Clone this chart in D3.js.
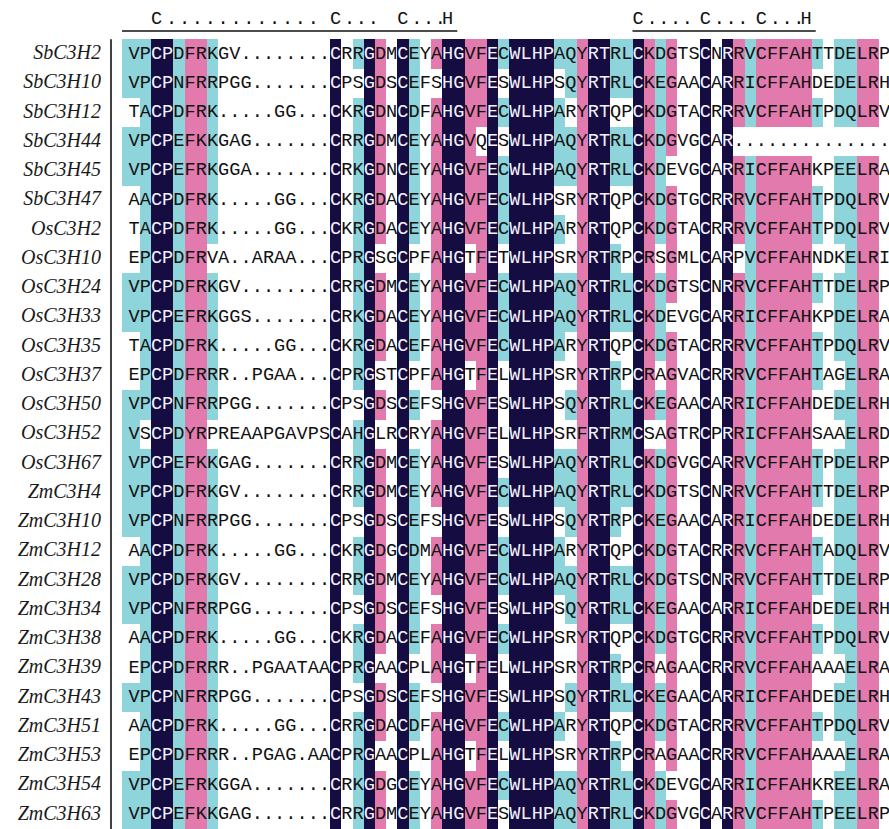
<!DOCTYPE html>
<html>
<head>
<meta charset="utf-8">
<script src="https://cdn.jsdelivr.net/npm/d3@7/dist/d3.min.js"></script>
<style>
  html, body { margin: 0; padding: 0; background: #ffffff; }
  svg { display: block; }
</style>
</head>
<body>
<svg id="chart" width="889" height="829"></svg>
<script>
// Sequence names, one per alignment row
const names = [
  "SbC3H2", "SbC3H10", "SbC3H12", "SbC3H44", "SbC3H45", "SbC3H47",
  "OsC3H2", "OsC3H10", "OsC3H24", "OsC3H33", "OsC3H35", "OsC3H37",
  "OsC3H50", "OsC3H52", "OsC3H67",
  "ZmC3H4", "ZmC3H10", "ZmC3H12", "ZmC3H28", "ZmC3H34", "ZmC3H38",
  "ZmC3H39", "ZmC3H43", "ZmC3H51", "ZmC3H53", "ZmC3H54", "ZmC3H63"
];

// Aligned residues ('.' = gap)
const sequences = [
  "VPCPDFRKGV........CRRGDMCEYAHGVFECWLHPAQYRTRLCKDGTSCNRRVCFFAHTTDELRP",
  "VPCPNFRRPGG.......CPSGDSCEFSHGVFESWLHPSQYRTRLCKEGAACARRICFFAHDEDELRH",
  "TACPDFRK.....GG...CKRGDNCDFAHGVFECWLHPARYRTQPCKDGTACRRRVCFFAHTPDQLRV",
  "VPCPEFKKGAG.......CRRGDMCEYAHGVQESWLHPAQYRTRLCKDGVGCAR..............",
  "VPCPEFRKGGA.......CRKGDNCEYAHGVFECWLHPAQYRTRLCKDEVGCARRICFFAHKPEELRA",
  "AACPDFRK.....GG...CKRGDACEYAHGVFECWLHPSRYRTQPCKDGTGCRRRVCFFAHTPDQLRV",
  "TACPDFRK.....GG...CKRGDACEYAHGVFECWLHPARYRTQPCKDGTACRRRVCFFAHTPDQLRV",
  "EPCPDFRVA..ARAA...CPRGSGCPFAHGTFETWLHPSRYRTRPCRSGMLCARPVCFFAHNDKELRI",
  "VPCPDFRKGV........CRRGDMCEYAHGVFECWLHPAQYRTRLCKDGTSCNRRVCFFAHTTDELRP",
  "VPCPEFRKGGS.......CRKGDACEYAHGVFECWLHPAQYRTRLCKDEVGCARRICFFAHKPDELRA",
  "TACPDFRK.....GG...CKRGDACEFAHGVFECWLHPARYRTQPCKDGTACRRRVCFFAHTPDQLRV",
  "EPCPDFRRR..PGAA...CPRGSTCPFAHGTFELWLHPSRYRTRPCRAGVACRRRVCFFAHTAGELRA",
  "VPCPNFRRPGG.......CPSGDSCEFSHGVFESWLHPSQYRTRLCKEGAACARRICFFAHDEDELRH",
  "VSCPDYRPREAAPGAVPSCAHGLRCRYAHGVFELWLHPSRFRTRMCSAGTRCPRRICFFAHSAAELRD",
  "VPCPEFKKGAG.......CRRGDMCEYAHGVFESWLHPAQYRTRLCKDGVGCARRVCFFAHTPDELRP",
  "VPCPDFRKGV........CRRGDMCEYAHGVFECWLHPAQYRTRLCKDGTSCNRRVCFFAHTTDELRP",
  "VPCPNFRRPGG.......CPSGDSCEFSHGVFESWLHPSQYRTRPCKEGAACARRICFFAHDEDELRH",
  "AACPDFRK.....GG...CKRGDGCDMAHGVFECWLHPARYRTQPCKDGTACRRRVCFFAHTADQLRV",
  "VPCPDFRKGV........CRRGDMCEYAHGVFECWLHPAQYRTRLCKDGTSCNRRVCFFAHTTDELRP",
  "VPCPNFRRPGG.......CPSGDSCEFSHGVFESWLHPSQYRTRLCKEGAACARRICFFAHDEDELRH",
  "AACPDFRK.....GG...CKRGDACEFAHGVFECWLHPSRYRTQPCKDGTGCRRRVCFFAHTPDQLRV",
  "EPCPDFRRR..PGAATAACPRGAACPLAHGTFELWLHPSRYRTRPCRAGAACRRRVCFFAHAAAELRA",
  "VPCPNFRRPGG.......CPSGDSCEFSHGVFESWLHPSQYRTRLCKEGAACARRICFFAHDEDELRH",
  "AACPDFRK.....GG...CRRGDACDFAHGVFECWLHPARYRTQPCKDGTACRRRVCFFAHTPDQLRV",
  "EPCPDFRRR..PGAG.AACPRGAACPLAHGTFELWLHPSRYRTRPCRAGAACRRRVCFFAHAAAELRA",
  "VPCPEFRKGGA.......CRKGDGCEYAHGVFECWLHPAQYRTRLCKDEVGCARRICFFAHKREELRA",
  "VPCPEFKKGAG.......CRRGDMCEYAHGVFESWLHPAQYRTRLCKDGVGCARRVCFFAHTPEELRP"
];

// Per-column conservation level: d = identical, p = high, c = moderate, - = none
const columnLevel = [
  "c","c","d","d","c","p","p","c","-","-",
  "-","-","-","-","-","-","-","-","d","-",
  "c","d","p","-","d","c","-","p","d","d",
  "p","p","d","c","d","d","d","d","c","c",
  "p","d","d","c","c","d","p","c","p","-",
  "-","d","-","d","p","c","p","p","p","p",
  "p","c","-","c","c","p","p","-"
];

// Residues shaded in each column
const columnResidues = [
  "V","PA","C","P","DNE","FY","RK","KR","","",
  "","","","","","","","","C","",
  "RKH","G","D","","C","ED","","A","H","G",
  "V","F","E","C","W","L","H","P","A","Q",
  "YF","R","T","R","LM","C","KR","DE","G","",
  "","C","","R","R","VI","C","F","F","A",
  "H","T","","DE","EQ","L","R",""
];

// Motif header: anchor residues, number of dots after each, and the underlined column spans
const headerAnchors = [
  { col: 2, ch: "C" }, { col: 18, ch: "C" }, { col: 24, ch: "C" }, { col: 28, ch: "H" },
  { col: 45, ch: "C" }, { col: 51, ch: "C" }, { col: 56, ch: "C" }, { col: 60, ch: "H" }
];
const headerDots = [12, 3, 3, 0, 4, 3, 3, 0];
const headerRules = [[0, 28], [45, 60]];

const palette = { d: "#150d42", p: "#e27aae", c: "#8ed4db" };

const nCols = sequences[0].length;
const svg = d3.select("#chart");

const x = d3.scaleBand()
  .domain(d3.range(nCols))
  .range([128.5, 128.5 + nCols * 11.2]);

const y = d3.scaleBand()
  .domain(names)
  .range([39.3, 829]);

const cw = x.bandwidth();
const rh = y.bandwidth();
const leadPad = 6.5;   // first column boxes reach a little to the left

// Cell model
const cells = [];
names.forEach((name, r) => {
  const seq = sequences[r];
  for (let j = 0; j < nCols; j++) {
    const ch = seq[j];
    const lvl = columnLevel[j];
    const shaded = lvl !== "-" && ch !== "." && columnResidues[j].includes(ch);
    cells.push({ name, col: j, ch, level: shaded ? lvl : null });
  }
});

// Shading boxes
svg.append("g")
  .attr("shape-rendering", "crispEdges")
  .selectAll("rect")
  .data(cells.filter(c => c.level))
  .join("rect")
  .attr("x", c => c.col === 0 ? x(c.col) - leadPad : x(c.col))
  .attr("y", c => y(c.name))
  .attr("width", c => c.col === 0 ? cw + leadPad : cw)
  .attr("height", rh)
  .attr("fill", c => palette[c.level]);

// Residue letters
svg.append("g")
  .attr("font-family", "'Liberation Mono', 'DejaVu Sans Mono', monospace")
  .attr("font-size", 18.6)
  .attr("text-anchor", "middle")
  .selectAll("text")
  .data(cells)
  .join("text")
  .attr("x", c => x(c.col) + cw / 2)
  .attr("y", c => y(c.name) + 19.2)
  .attr("fill", c => c.level === "d" ? "#f4f2fb" : "#111111")
  .text(c => c.ch);

// Sequence names
svg.append("g")
  .attr("font-family", "'Liberation Serif', 'DejaVu Serif', serif")
  .attr("font-style", "italic")
  .attr("font-size", 20)
  .attr("text-anchor", "end")
  .selectAll("text")
  .data(names)
  .join("text")
  .attr("x", 101)
  .attr("y", d => y(d) + 19.8)
  .attr("fill", "#1a1a1a")
  .text(d => d);

// Separator between names and residues
svg.append("line")
  .attr("x1", 111).attr("x2", 111)
  .attr("y1", y.range()[0]).attr("y2", y.range()[1])
  .attr("stroke", "#111").attr("stroke-width", 1.6);

// Motif header letters and dots
const headerChars = [];
headerAnchors.forEach((a, i) => {
  const cx = x(a.col) + cw / 2;
  headerChars.push({ x: cx, ch: a.ch });
  const n = headerDots[i];
  const step = n > 8 ? 1.15 : 1.05;   // long dot runs are spaced slightly wider
  for (let k = 1; k <= n; k++) {
    headerChars.push({ x: cx + (0.2 + k * step) * cw, ch: "." });
  }
});

svg.append("g")
  .attr("font-family", "'Liberation Mono', 'DejaVu Sans Mono', monospace")
  .attr("font-size", 18.6)
  .attr("text-anchor", "middle")
  .attr("fill", "#111")
  .selectAll("text")
  .data(headerChars)
  .join("text")
  .attr("x", d => d.x)
  .attr("y", 23.5)
  .text(d => d.ch);

svg.append("g")
  .selectAll("line")
  .data(headerRules)
  .join("line")
  .attr("x1", d => d[0] === 0 ? x(d[0]) - leadPad : x(d[0]))
  .attr("x2", d => x(d[1]) + cw + 4)
  .attr("y1", 31).attr("y2", 31)
  .attr("stroke", "#111").attr("stroke-width", 1.6);
</script>
</body>
</html>
